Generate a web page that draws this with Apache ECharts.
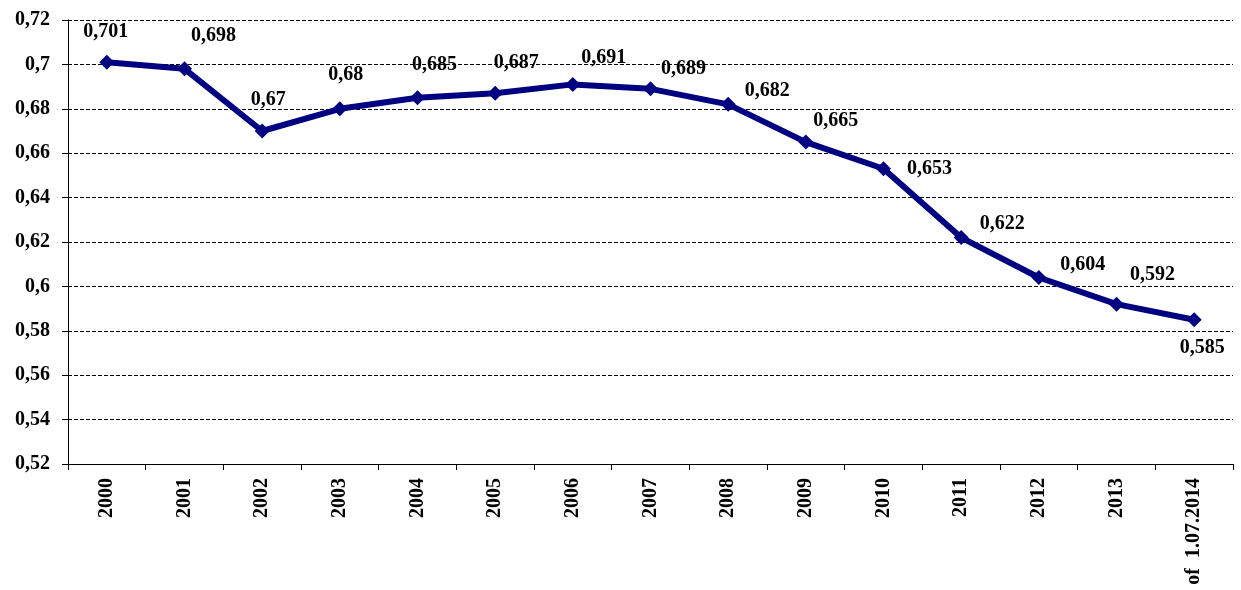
<!DOCTYPE html>
<html><head><meta charset="utf-8">
<script src="https://cdn.jsdelivr.net/npm/echarts@6/dist/echarts.min.js"></script>
<style>html,body{margin:0;padding:0;background:#fff}#c{width:1241px;height:590px}</style>
</head><body><div id="c"></div>
<script>
var categories = ['2000','2001','2002','2003','2004','2005','2006','2007','2008','2009','2010','2011','2012','2013','of  1.07.2014'];
var values = [0.701,0.698,0.67,0.68,0.685,0.687,0.691,0.689,0.682,0.665,0.653,0.622,0.604,0.592,0.585];
var labelOffsets = [[-1,-8],[29,-11],[6,-9],[6,-11],[17,-10],[21,-8],[31,-4],[33,3],[39,9],[30,1],[46,23],[41,9],[44,10],[36,-7],[8,51]];

var chart = echarts.init(document.getElementById('c'));
var font = '"Liberation Serif","Times New Roman",serif';
chart.setOption({
  animation:false,
  grid:{left:68,right:8,top:20,bottom:126},
  xAxis:{type:'category',data:categories,boundaryGap:true,
    axisLine:{lineStyle:{color:'#000',width:1}},
    axisTick:{show:true,length:6,lineStyle:{color:'#000'}},
    axisLabel:{rotate:90,margin:14,color:'#000',fontFamily:font,fontWeight:'bold',fontSize:20,interval:0}},
  yAxis:{type:'value',min:0.52,max:0.72,interval:0.02,
    axisLine:{show:true,lineStyle:{color:'#000',width:1}},
    axisTick:{show:true,length:6,lineStyle:{color:'#000'}},
    axisLabel:{margin:18,color:'#000',fontFamily:font,fontWeight:'bold',fontSize:20,
      formatter:function(v){return String(Math.round(v*100)/100).replace('.',',');}},
    splitLine:{show:true,lineStyle:{color:'#000',type:[4,2],width:1}}},
  series:[{type:'line',data:values.map(function(v,i){return {value:v,label:{offset:labelOffsets[i]}};}),
    symbol:'diamond',symbolSize:15,
    lineStyle:{color:'#000080',width:6},
    itemStyle:{color:'#000080'},
    label:{show:true,position:'top',color:'#000',fontFamily:font,fontWeight:'bold',fontSize:20,
      formatter:function(p){return String(p.value).replace('.',',');}}}]
});
</script></body></html>
